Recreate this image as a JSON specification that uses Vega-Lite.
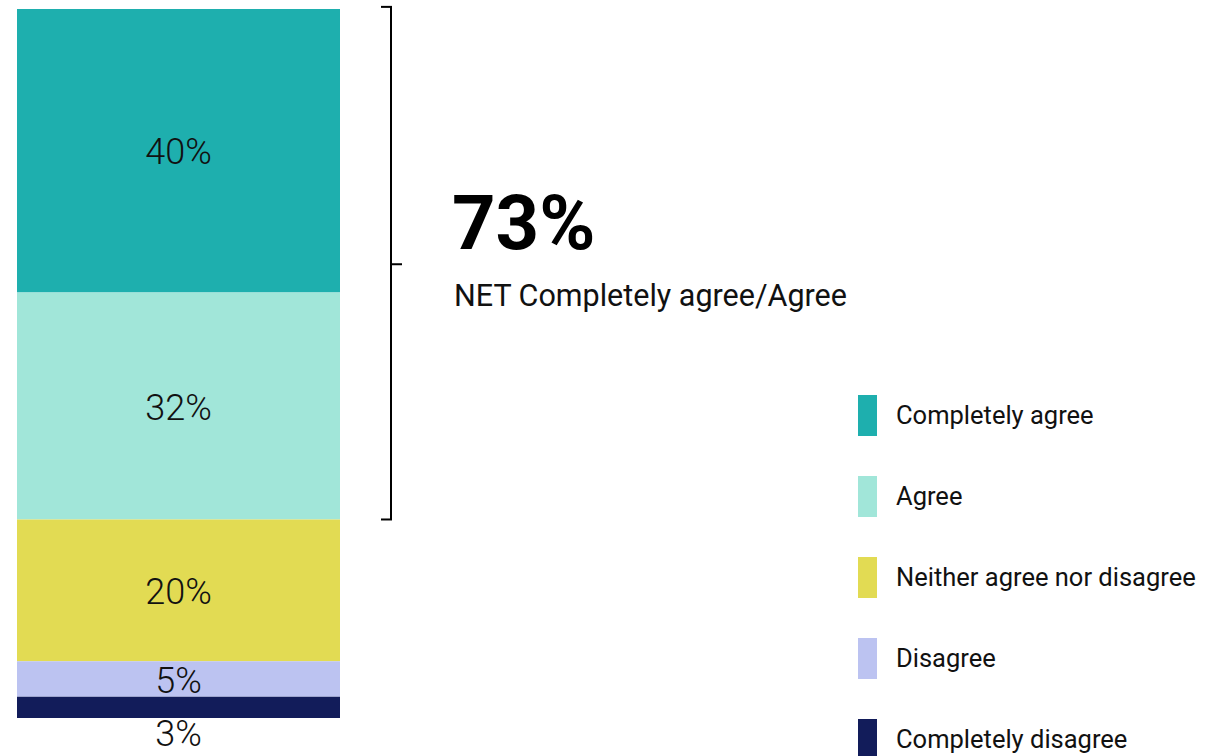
{
  "$schema": "https://vega.github.io/schema/vega-lite/v6.json",
  "width": 1207,
  "height": 756,
  "autosize": {"type": "none"},
  "padding": 0,
  "background": "white",
  "config": {"view": {"stroke": null}, "font": "Roboto"},
  "datasets": {
    "responses": [
      {"category": "Completely agree", "value": 40, "rank": 5},
      {"category": "Agree", "value": 32, "rank": 4},
      {"category": "Neither agree nor disagree", "value": 20, "rank": 3},
      {"category": "Disagree", "value": 5, "rank": 2},
      {"category": "Completely disagree", "value": 3, "rank": 1}
    ]
  },
  "layer": [
    {
      "data": {"name": "responses"},
      "transform": [
        {"stack": "value", "groupby": [], "sort": [{"field": "rank", "order": "ascending"}], "as": ["y0", "y1"]}
      ],
      "mark": {"type": "bar"},
      "encoding": {
        "x": {"datum": 17, "type": "quantitative", "scale": {"domain": [0, 1207], "nice": false, "zero": false}, "axis": null},
        "x2": {"datum": 340},
        "y": {"field": "y0", "type": "quantitative", "scale": {"domain": [-5.36, 101.27], "nice": false, "zero": false}, "axis": null},
        "y2": {"field": "y1"},
        "color": {
          "field": "category",
          "type": "nominal",
          "scale": {
            "domain": ["Completely agree", "Agree", "Neither agree nor disagree", "Disagree", "Completely disagree"],
            "range": ["#1EAFAE", "#A1E6D9", "#E2DB53", "#BCC3F1", "#121C5A"]
          },
          "legend": {
            "title": null,
            "orient": "none",
            "legendX": 847,
            "legendY": 395,
            "symbolType": "M-0.4634,-1H0.4634V1H-0.4634Z",
            "symbolSize": 1681,
            "symbolStrokeWidth": 0,
            "symbolOpacity": 1,
            "labelFontSize": 25.5,
            "labelFont": "Roboto",
            "labelColor": "#111111",
            "labelOffset": 8,
            "rowPadding": 40,
            "padding": 0,
            "labelLimit": 400
          }
        }
      }
    },
    {
      "data": {"name": "responses"},
      "transform": [
        {"stack": "value", "groupby": [], "sort": [{"field": "rank", "order": "ascending"}], "as": ["y0", "y1"]},
        {"calculate": "datum.y1 - datum.y0 < 4 ? -2.05 : (datum.y0 + datum.y1) / 2", "as": "labelY"},
        {"calculate": "datum.value + '%'", "as": "label"}
      ],
      "mark": {"type": "text", "fontSize": 36, "font": "Roboto", "fontWeight": 300, "color": "#111111", "baseline": "middle", "align": "center", "dy": 2.5},
      "encoding": {
        "x": {"datum": 178.5, "type": "quantitative"},
        "y": {"field": "labelY", "type": "quantitative"},
        "text": {"field": "label"}
      }
    },
    {
      "data": {"values": [{}]},
      "mark": {"type": "rule", "color": "#000000", "strokeWidth": 2},
      "encoding": {
        "x": {"datum": 391, "type": "quantitative"},
        "y": {"datum": 28, "type": "quantitative"},
        "y2": {"datum": 100.3}
      }
    },
    {
      "data": {"values": [{}]},
      "mark": {"type": "rule", "color": "#000000", "strokeWidth": 2},
      "encoding": {
        "x": {"datum": 381, "type": "quantitative"},
        "x2": {"datum": 392},
        "y": {"datum": 100.3, "type": "quantitative"}
      }
    },
    {
      "data": {"values": [{}]},
      "mark": {"type": "rule", "color": "#000000", "strokeWidth": 2},
      "encoding": {
        "x": {"datum": 381, "type": "quantitative"},
        "x2": {"datum": 392},
        "y": {"datum": 28, "type": "quantitative"}
      }
    },
    {
      "data": {"values": [{}]},
      "mark": {"type": "rule", "color": "#000000", "strokeWidth": 2},
      "encoding": {
        "x": {"datum": 391, "type": "quantitative"},
        "x2": {"datum": 402},
        "y": {"datum": 64, "type": "quantitative"}
      }
    },
    {
      "data": {"values": [{}]},
      "mark": {"type": "text", "text": "73%", "fontSize": 76, "fontWeight": "bold", "font": "Roboto", "color": "#000000", "align": "left", "baseline": "alphabetic"},
      "encoding": {
        "x": {"datum": 452, "type": "quantitative"},
        "y": {"datum": 66.15, "type": "quantitative"}
      }
    },
    {
      "data": {"values": [{}]},
      "mark": {"type": "text", "text": "NET Completely agree/Agree", "fontSize": 30.5, "font": "Roboto", "color": "#111111", "align": "left", "baseline": "alphabetic"},
      "encoding": {
        "x": {"datum": 454, "type": "quantitative"},
        "y": {"datum": 58.1, "type": "quantitative"}
      }
    }
  ]
}
